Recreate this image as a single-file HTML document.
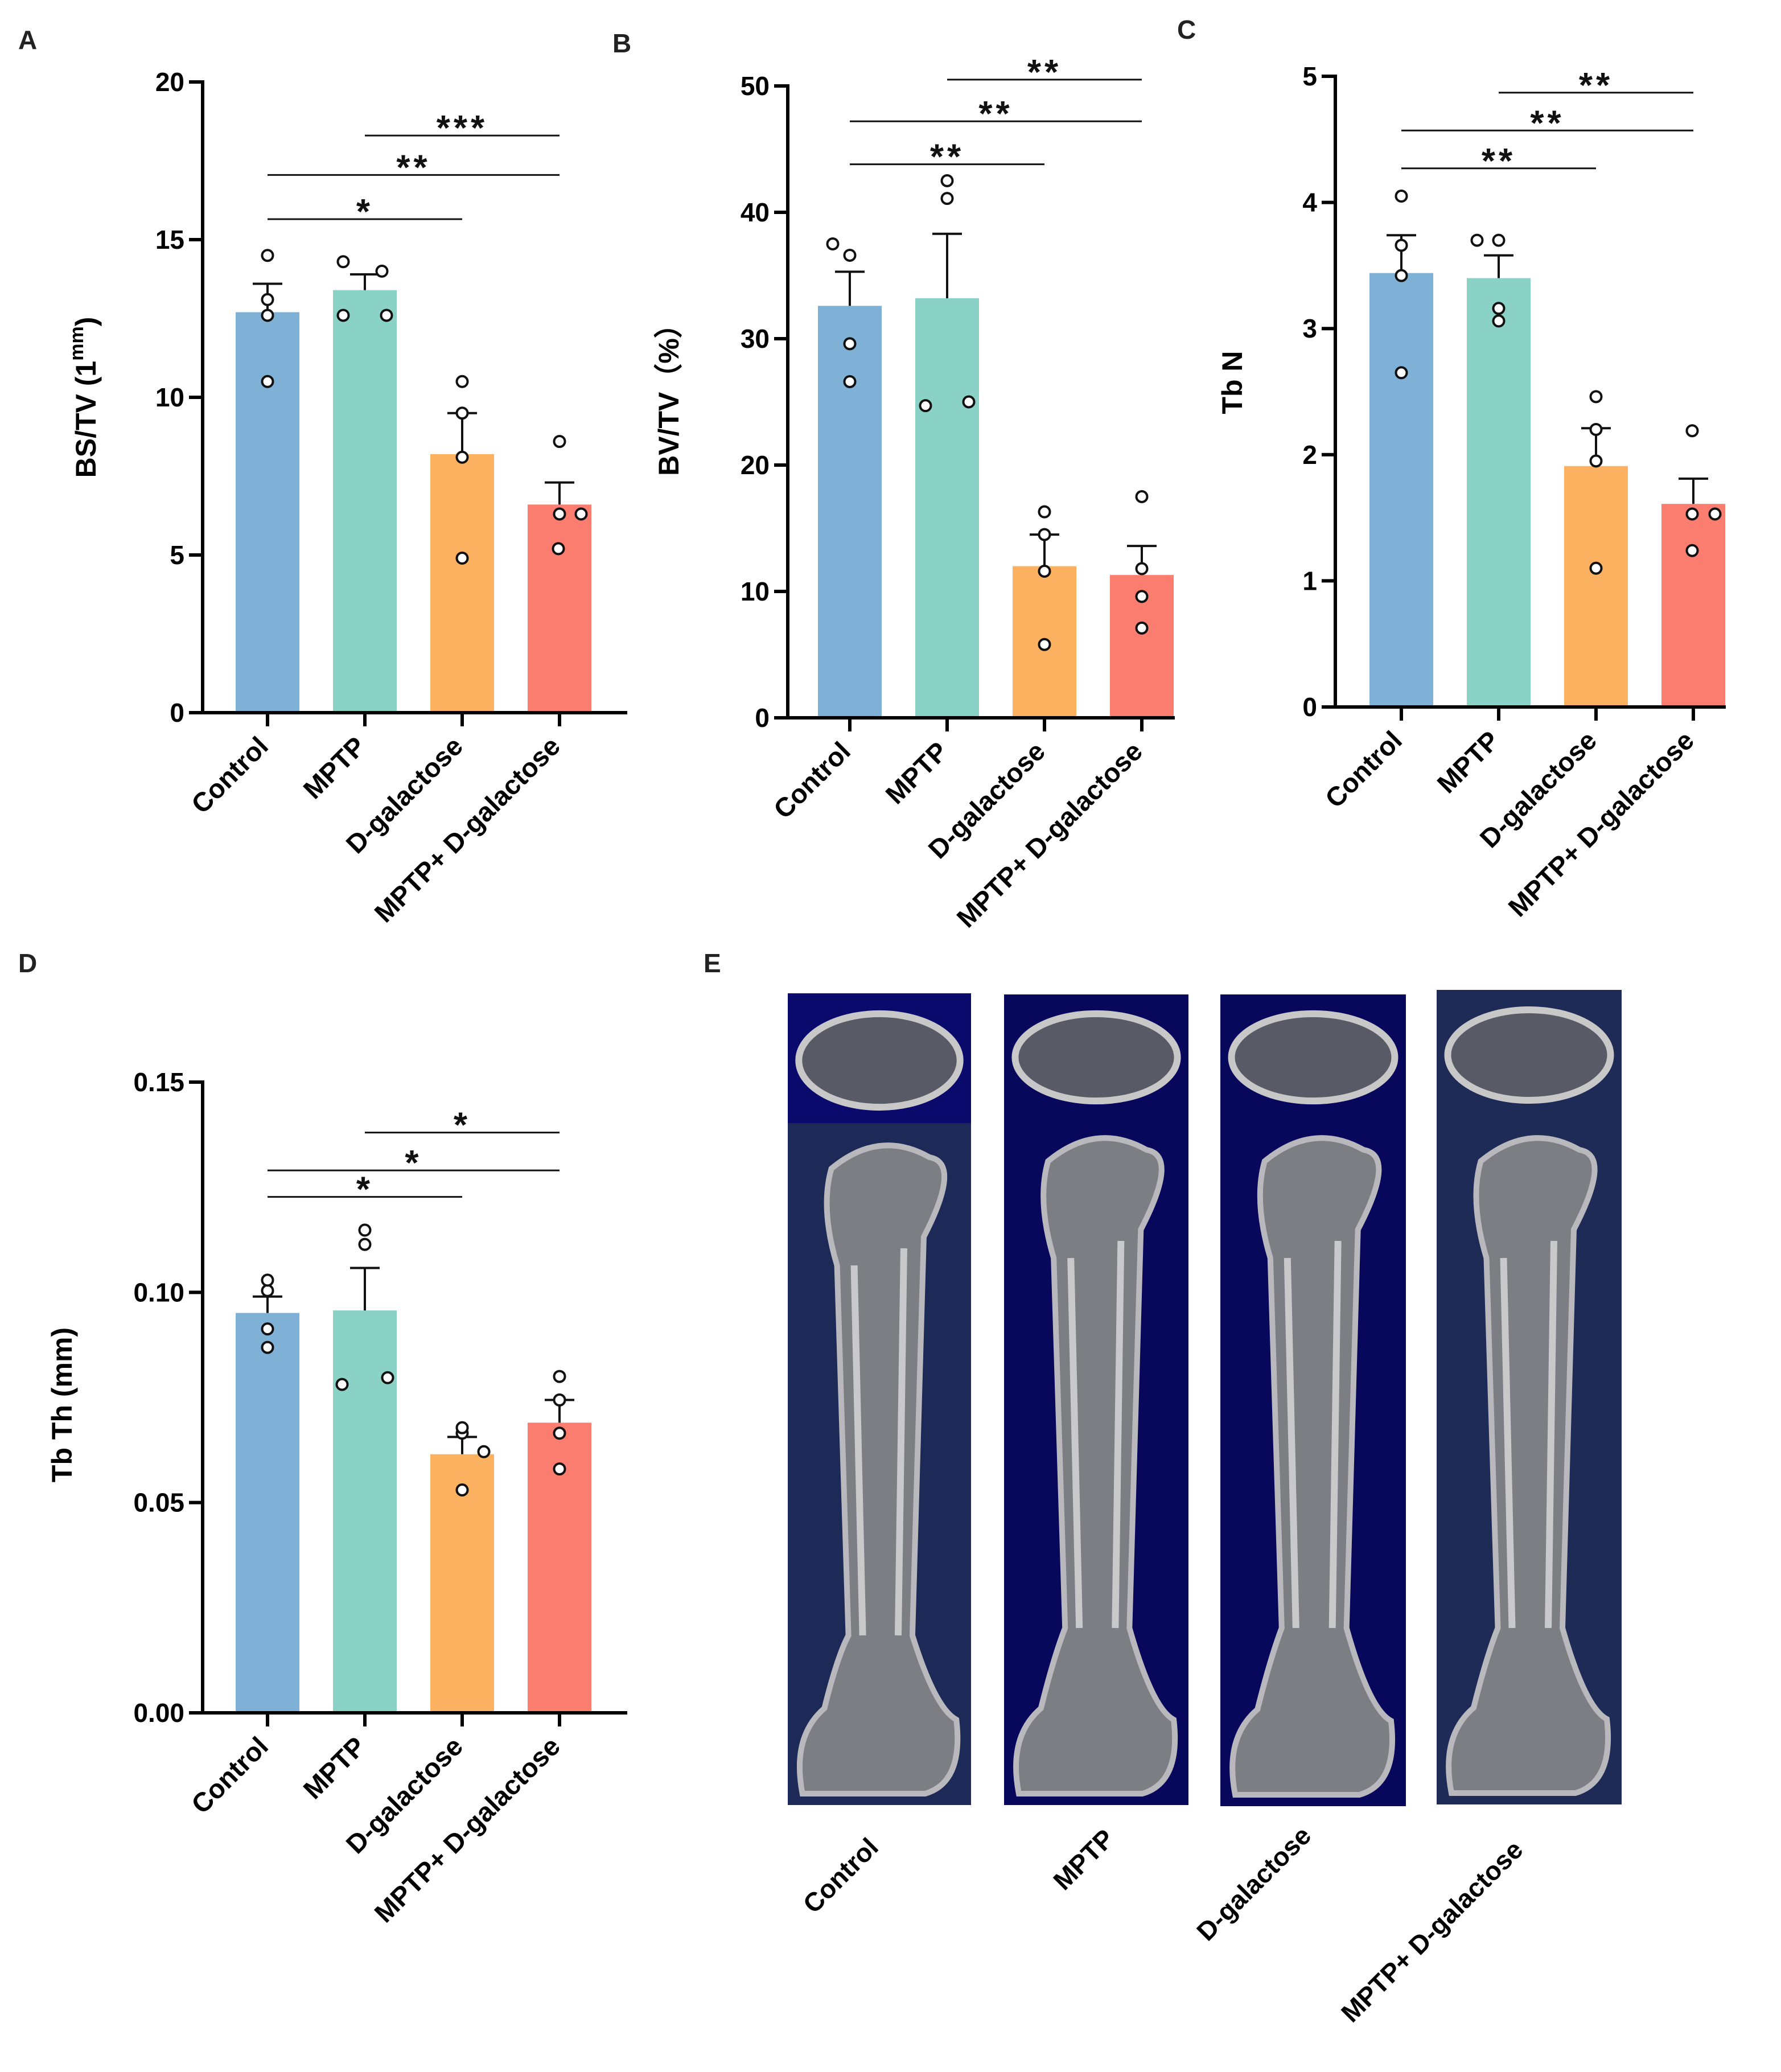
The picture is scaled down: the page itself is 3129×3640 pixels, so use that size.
<!DOCTYPE html>
<html><head><meta charset="utf-8">
<style>
html,body{margin:0;padding:0;background:#fff;}
svg{display:block;font-family:"Liberation Sans",Arial,sans-serif;}
</style></head>
<body>
<svg id="fig" width="3129" height="3640" viewBox="0 0 3129 3640" xmlns="http://www.w3.org/2000/svg">
<g id="panelE"></g>
</svg>
<script>
const categories = ["Control","MPTP","D-galactose","MPTP+ D-galactose"];
const colors = ["#7fb0d6","#8bd2c6","#fbb15f","#fa7d6f"];

// Panel A: BS/TV
const aMeans = [12.7, 13.4, 8.2, 6.6];
const aErr = [13.6, 13.9, 9.5, 7.3];
const aPoints = [[14.5,13.1,12.6,10.5],[14.3,14.0,12.6,12.6],[10.5,9.5,8.1,4.9],[8.6,6.3,6.3,5.2]];
const aTicks = [0,5,10,15,20];
const aSig = [[0,2,15.65,"*"],[0,3,17.05,"**"],[1,3,18.3,"***"]];

// Panel B: BV/TV
const bMeans = [32.6, 33.2, 12.0, 11.3];
const bErr = [35.3, 38.3, 14.5, 13.6];
const bPoints = [[37.5,36.6,29.6,26.6],[42.5,41.1,24.7,25.0],[16.3,14.5,11.6,5.8],[17.5,11.8,9.6,7.1]];
const bTicks = [0,10,20,30,40,50];
const bSig = [[0,2,43.8,"**"],[0,3,47.2,"**"],[1,3,50.5,"**"]];

// Panel C: Tb N
const cMeans = [3.44, 3.40, 1.91, 1.61];
const cErr = [3.74, 3.58, 2.21, 1.81];
const cPoints = [[4.05,3.66,3.42,2.65],[3.70,3.70,3.16,3.06],[2.46,2.20,1.95,1.10],[2.19,1.53,1.53,1.24]];
const cTicks = [0,1,2,3,4,5];
const cSig = [[0,2,4.27,"**"],[0,3,4.57,"**"],[1,3,4.87,"**"]];

// Panel D: Tb Th
const dMeans = [0.0951, 0.0957, 0.0615, 0.0690];
const dErr = [0.0990, 0.1058, 0.0656, 0.0744];
const dPoints = [[0.1004,0.1029,0.0913,0.0869],[0.1148,0.1114,0.0781,0.0797],[0.0665,0.0678,0.0621,0.0530],[0.0800,0.0744,0.0665,0.0580]];
const dTicks = [0,0.05,0.10,0.15];
const dTickLabels = ["0.00","0.05","0.10","0.15"];
const dSig = [[0,2,0.1227,"*"],[0,3,0.1290,"*"],[1,3,0.1380,"*"]];

const NS = "http://www.w3.org/2000/svg";
const svg = document.getElementById("fig");
function mk(tag, attrs, parent, text){
  const e = document.createElementNS(NS, tag);
  for (const k in attrs) e.setAttribute(k, attrs[k]);
  if (text !== undefined) e.textContent = text;
  (parent||svg).appendChild(e);
  return e;
}

// jitter offsets (px) for points within each group – layout only
const jitterA = [[0,0,0,0],[-38,30,-38,38],[0,0,0,0],[0,0,38,-2]];
const jitterB = [[-30,0,0,0],[0,0,-38,38],[0,0,0,0],[0,0,0,0]];
const jitterC = [[0,0,0,0],[-38,0,0,0],[0,0,0,0],[-2,-2,38,-2]];
const jitterD = [[0,0,0,0],[0,0,-40,40],[0,0,38,0],[0,0,0,0]];

function drawPanel(o){
  const g = mk("g", {});
  
  
  const y = v => o.y0 - (v - o.min)/(o.max - o.min)*(o.y0 - o.yTop);
  const x = i => o.x0 + o.first + i*o.step;
  const bw = 112;
  o.means.forEach((m,i)=>{
    const r = mk("rect",{x:x(i)-bw/2,y:y(m),width:bw,height:o.y0-y(m),fill:colors[i]},g);
    
    
  });
  o.err.forEach((e,i)=>{
    const eg = mk("g",{stroke:"#111","stroke-width":4,fill:"none"},g);
    
    
    mk("line",{x1:x(i),x2:x(i),y1:y(o.means[i]),y2:y(e)},eg);
    mk("line",{x1:x(i)-26,x2:x(i)+26,y1:y(e),y2:y(e)},eg);
  });
  o.points.forEach((arr,i)=>{
    arr.forEach((v,j)=>{
      const c = mk("circle",{cx:x(i)+o.jit[i][j],cy:y(v),r:9.5,fill:"#fff",stroke:"#111","stroke-width":4},g);
      
      
    });
  });
  const ax = mk("g",{stroke:"#000","stroke-width":6,fill:"none"},g);
  
  
  mk("line",{x1:o.x0,x2:o.x0,y1:y(o.max)-3,y2:o.y0+3},ax);
  mk("line",{x1:o.x0-3,x2:o.xEnd,y1:o.y0,y2:o.y0},ax);
  o.ticks.forEach((t,k)=>{
    mk("line",{x1:o.x0-24,x2:o.x0,y1:y(t),y2:y(t)},ax);
    const tl = mk("text",{x:o.x0-32,y:y(t)+16,"text-anchor":"end","font-size":46,"font-weight":"bold",fill:"#000",stroke:"none"},g,o.tickLabels?o.tickLabels[k]:String(t));
    
    
  });
  categories.forEach((c,i)=>{
    mk("line",{x1:x(i),x2:x(i),y1:o.y0,y2:o.y0+24},ax);
    const tx = x(i)+4, ty = o.y0+62;
    const t = mk("text",{x:tx,y:ty,"text-anchor":"end","font-size":47,"font-weight":"bold",fill:"#000",transform:`rotate(-45 ${tx} ${ty})`},g,c);
    
    
  });
  o.sig.forEach(s=>{
    const sg = mk("g",{},g);
    
    
    mk("line",{x1:x(s[0]),x2:x(s[1]),y1:y(s[2]),y2:y(s[2]),stroke:"#111","stroke-width":3},sg);
    mk("text",{x:(x(s[0])+x(s[1]))/2,y:y(s[2])+8,"text-anchor":"middle","font-size":62,"font-weight":"bold",fill:"#111","letter-spacing":"6"},sg,s[3]);
  });
  const yt = mk("text",{x:o.titleX,y:o.titleY,"text-anchor":"middle","font-size":50,"font-weight":"bold",fill:"#000",transform:`rotate(-90 ${o.titleX} ${o.titleY})`},g);
  
  
  o.title(yt);
  const pl = mk("text",{x:o.lx,y:o.ly,"font-size":46,"font-weight":"bold",fill:"#222"},g,o.letter);
  
  
}

drawPanel({name:"panel-a-bs-tv",letter:"A",lx:32,ly:86,x0:356,y0:1252,yTop:144,min:0,max:20,first:114,step:171,xEnd:1102,
  means:aMeans,err:aErr,points:aPoints,ticks:aTicks,sig:aSig,jit:jitterA,titleX:168,titleY:698,
  title:t=>{t.textContent="BS/TV (1"; mk("tspan",{dy:-22,"font-size":34},t,"mm"); mk("tspan",{dy:22},t,")");}});
drawPanel({name:"panel-b-bv-tv",letter:"B",lx:1076,ly:92,x0:1384,y0:1261,yTop:151,min:0,max:50,first:109,step:171,xEnd:2064,
  means:bMeans,err:bErr,points:bPoints,ticks:bTicks,sig:bSig,jit:jitterB,titleX:1192,titleY:690,
  title:t=>{t.textContent="BV/TV（%）";}});
drawPanel({name:"panel-c-tb-n",letter:"C",lx:2068,ly:68,x0:2346,y0:1242,yTop:134,min:0,max:5,first:116,step:171,xEnd:3032,
  means:cMeans,err:cErr,points:cPoints,ticks:cTicks,sig:cSig,jit:jitterC,titleX:2182,titleY:672,
  title:t=>{t.textContent="Tb N";}});
drawPanel({name:"panel-d-tb-th",letter:"D",lx:32,ly:1708,x0:356,y0:3009,yTop:1901,min:0,max:0.15,first:114,step:171,xEnd:1102,
  means:dMeans,err:dErr,points:dPoints,ticks:dTicks,tickLabels:dTickLabels,sig:dSig,jit:jitterD,titleX:126,titleY:2468,
  title:t=>{t.textContent="Tb Th (mm)";}});

// Panel E: bone images (illustrative)
const E = document.getElementById("panelE");
const eLabel = mk("text",{x:1236,y:1708,"font-size":46,"font-weight":"bold",fill:"#222"},E,"E");


const boxes = [
  {x:1384,w:322,top:1745,mid:1973,bot:3171,topc:"#0a0a6c",botc:"#1d2a57"},
  {x:1764,w:324,top:1747,mid:1960,bot:3171,topc:"#07085c",botc:"#07085c"},
  {x:2144,w:326,top:1747,mid:1960,bot:3173,topc:"#07085c",botc:"#07085c"},
  {x:2524,w:325,top:1739,mid:1960,bot:3170,topc:"#1e2b56",botc:"#1e2b56"}
];
const labelPos = [[1488,3306],[1915,3278],[2214,3320],[2527,3404]];
boxes.forEach((b,i)=>{
  const g = mk("g",{},E);
  
  
  mk("rect",{x:b.x,y:b.top,width:b.w,height:b.mid-b.top,fill:b.topc},g);
  mk("rect",{x:b.x,y:b.mid,width:b.w,height:b.bot-b.mid,fill:b.botc},g);
  const cx = b.x+b.w/2;
  mk("ellipse",{cx:cx,cy:(b.top+b.mid)/2+4,rx:b.w*0.44,ry:(b.mid-b.top)*0.36,fill:"#585a66",stroke:"#c8c8c8","stroke-width":12},g);
  const L = b.x+b.w*0.30, R = b.x+b.w*0.68;
  const d = `M ${L-20} ${b.mid+80} Q ${cx} ${b.mid+10} ${R+30} ${b.mid+60} Q ${b.x+b.w*0.95} ${b.mid+70} ${R+20} ${b.mid+200}
    L ${R} ${b.mid+900} Q ${R+40} ${b.bot-170} ${b.x+b.w*0.92} ${b.bot-150} Q ${b.x+b.w*0.96} ${b.bot-40} ${b.x+b.w*0.75} ${b.bot-20}
    L ${b.x+b.w*0.08} ${b.bot-20} Q ${b.x+b.w*0.02} ${b.bot-120} ${b.x+b.w*0.20} ${b.bot-170}
    Q ${L-10} ${b.bot-260} ${L+10} ${b.mid+900} L ${L-10} ${b.mid+250} Q ${L-40} ${b.mid+150} ${L-20} ${b.mid+80} Z`;
  mk("path",{d:d,fill:"#7d7e84",stroke:"#b9b9bd","stroke-width":10},g);
  mk("path",{d:`M ${L+20} ${b.mid+250} L ${L+35} ${b.mid+900} M ${R-15} ${b.mid+220} L ${R-25} ${b.mid+900}`,stroke:"#c9c9cc","stroke-width":12,fill:"none"},g);
  const lx = labelPos[i][0], ly = labelPos[i][1];
  const t = mk("text",{x:lx,y:ly,"text-anchor":"middle","font-size":46,"font-weight":"bold",fill:"#000",transform:`rotate(-45 ${lx} ${ly})`},E,categories[i]);
  
  
});
</script>
</body></html>
